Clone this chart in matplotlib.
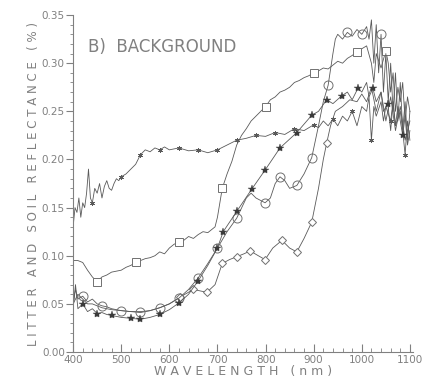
import numpy as np
import matplotlib
matplotlib.use("Agg")
import matplotlib.pyplot as plt
from matplotlib.ticker import MultipleLocator, FuncFormatter

# litter / soil spectra (reflectance, fraction)
wl_a = [400, 404, 408, 412, 416, 420, 424, 428, 432, 436, 440, 445, 450, 455, 460, 465, 470, 475,
        480, 485, 490, 495, 500, 510, 520, 530, 540, 550, 560, 570, 580, 590, 600, 620, 640, 660,
        680, 700, 720, 740, 760, 780, 800, 820, 840, 860, 880, 900, 910, 920, 930, 940, 950, 960,
        970, 980, 990, 1000, 1010, 1015, 1020, 1025, 1030, 1040, 1045, 1050, 1060, 1065, 1070,
        1080, 1085, 1090, 1095, 1100]
refl_a = [0.13, 0.15, 0.145, 0.16, 0.14, 0.155, 0.15, 0.165, 0.19, 0.16, 0.155, 0.17, 0.165, 0.175,
          0.16, 0.172, 0.178, 0.17, 0.168, 0.175, 0.18, 0.178, 0.182, 0.185, 0.19, 0.195, 0.205,
          0.21, 0.208, 0.212, 0.21, 0.213, 0.21, 0.212, 0.209, 0.21, 0.207, 0.21, 0.215, 0.22,
          0.222, 0.225, 0.224, 0.228, 0.226, 0.232, 0.23, 0.236, 0.233, 0.24, 0.235, 0.242, 0.235,
          0.245, 0.24, 0.25, 0.235, 0.255, 0.25, 0.265, 0.22, 0.255, 0.245, 0.26, 0.24, 0.255,
          0.24, 0.26, 0.235, 0.25, 0.23, 0.205, 0.24, 0.22]

wl_b = [400, 410, 420, 430, 440, 450, 460, 470, 480, 490, 500, 510, 520, 530, 540, 550, 560, 570,
        580, 590, 600, 610, 620, 630, 640, 650, 660, 670, 680, 690, 695, 700, 705, 710, 720, 730,
        740, 750, 760, 770, 780, 790, 800, 810, 820, 830, 840, 850, 860, 870, 880, 890, 900, 910,
        920, 930, 940, 950, 960, 970, 980, 990, 1000, 1010, 1020, 1025, 1030, 1040, 1050, 1055,
        1060, 1065, 1070, 1075, 1080, 1085, 1090, 1095, 1100]
refl_b = [0.095, 0.095, 0.093, 0.085, 0.078, 0.073, 0.078, 0.08, 0.083, 0.084, 0.085, 0.088, 0.09,
          0.093, 0.095, 0.097, 0.098, 0.1, 0.104, 0.102, 0.108, 0.112, 0.114, 0.116, 0.12, 0.118,
          0.122, 0.125, 0.124, 0.128, 0.13, 0.14, 0.155, 0.17, 0.185, 0.198, 0.215, 0.225, 0.232,
          0.24, 0.245, 0.25, 0.255, 0.262, 0.265, 0.27, 0.272, 0.275, 0.28, 0.282, 0.285, 0.287,
          0.29, 0.292, 0.295, 0.294, 0.298, 0.302, 0.3, 0.305, 0.308, 0.312, 0.315, 0.318, 0.3,
          0.28, 0.31, 0.295, 0.313, 0.3, 0.27, 0.29, 0.25, 0.275, 0.26, 0.28, 0.24, 0.265, 0.25]

wl_c = [400, 405, 410, 420, 430, 440, 450, 460, 470, 480, 490, 500, 520, 540, 560, 580, 600, 620,
        640, 660, 680, 700, 720, 740, 760, 770, 780, 799, 810, 820, 830, 840, 850, 865, 880, 896,
        910, 920, 930, 940, 945, 950, 960, 970, 980, 990, 1000, 1010, 1015, 1020, 1025, 1030,
        1035, 1040, 1045, 1050, 1055, 1060, 1065, 1070, 1075, 1080, 1085, 1090, 1095, 1100]
refl_c = [0.05, 0.065, 0.055, 0.058, 0.052, 0.055, 0.05, 0.048, 0.047, 0.045, 0.044, 0.043, 0.042,
          0.042, 0.043, 0.046, 0.05, 0.056, 0.065, 0.077, 0.092, 0.108, 0.125, 0.139, 0.16, 0.165,
          0.16, 0.155, 0.16, 0.175, 0.182, 0.178, 0.17, 0.173, 0.185, 0.202, 0.235, 0.26, 0.277,
          0.31, 0.325, 0.33, 0.325, 0.332, 0.328, 0.335, 0.33, 0.338, 0.325, 0.345, 0.3, 0.34, 0.29,
          0.33, 0.27, 0.31, 0.26, 0.3, 0.25, 0.29, 0.24, 0.28, 0.23, 0.26, 0.22, 0.25]

wl_d = [400, 405, 410, 420, 430, 440, 450, 460, 470, 480, 490, 500, 520, 540, 560, 580, 600, 620,
        640, 660, 680, 700, 712, 740, 771, 799, 830, 865, 896, 910, 927, 940, 958, 970, 980, 992,
        1000, 1010, 1015, 1023, 1030, 1040, 1045, 1054, 1060, 1065, 1070, 1075, 1085, 1090, 1095,
        1100]
refl_d = [0.045, 0.07, 0.045, 0.05, 0.042, 0.045, 0.04, 0.041, 0.039, 0.038, 0.037, 0.036, 0.035,
          0.034, 0.036, 0.039, 0.044, 0.051, 0.06, 0.074, 0.09, 0.108, 0.125, 0.146, 0.169, 0.189,
          0.212, 0.228, 0.246, 0.25, 0.262, 0.258, 0.266, 0.27, 0.262, 0.274, 0.27, 0.28, 0.265,
          0.274, 0.26, 0.27, 0.25, 0.258, 0.23, 0.26, 0.235, 0.255, 0.225, 0.245, 0.215, 0.23]

wl_e = [400, 410, 420, 430, 440, 460, 480, 500, 520, 540, 560, 580, 600, 622, 650, 678, 695, 710,
        725, 740, 755, 768, 785, 799, 815, 834, 850, 865, 880, 896, 910, 920, 927, 935, 945, 960,
        975, 990, 1000, 1010, 1020, 1030, 1040, 1050, 1060, 1070, 1080, 1090, 1100]
refl_e = [0.05, 0.06, 0.055, 0.05, 0.05, 0.046, 0.044, 0.043, 0.042, 0.041, 0.043, 0.046, 0.05,
          0.057, 0.065, 0.062, 0.07, 0.092, 0.096, 0.099, 0.102, 0.105, 0.1, 0.096, 0.108, 0.116,
          0.108, 0.104, 0.118, 0.135, 0.17, 0.2, 0.217, 0.235, 0.25, 0.255, 0.262, 0.26, 0.268,
          0.26, 0.275, 0.25, 0.27, 0.24, 0.265, 0.23, 0.255, 0.22, 0.24]

# where the symbols sit on each curve
marks_a = [440, 500, 540, 580, 620, 660, 700, 740, 780, 820, 860, 900, 940, 980, 1020, 1060, 1090]
marks_b = [450, 530, 620, 710, 800, 900, 990, 1050]
marks_c = [420, 460, 500, 540, 580, 620, 660, 700, 740, 799, 830, 865, 896, 930, 970, 1000, 1040]
marks_d = [420, 450, 480, 520, 540, 580, 620, 660, 700, 712, 740, 771, 799, 830, 865, 896, 927,
           958, 992, 1023, 1054, 1085]
marks_e = [622, 650, 678, 710, 740, 768, 799, 834, 865, 896, 927]

line_col = "#5a5a5a"
sym_col = "#707070"
text_col = "#808080"

fig = plt.figure(figsize=(4.3, 3.86), dpi=100)
ax = fig.add_axes([0.17, 0.088, 0.79, 0.873])


def draw(wl, refl, marks, **kw):
    idx = [i for i, w in enumerate(wl) if w in marks]
    ax.plot(wl, refl, color=line_col, lw=0.6, markevery=idx, **kw)


draw(wl_a, refl_a, marks_a, marker=(6, 2, 0), ms=3.5, mec=line_col, mew=0.6)
draw(wl_b, refl_b, marks_b, marker="s", ms=5.5, mfc="white", mec=sym_col, mew=0.7)
draw(wl_e, refl_e, marks_e, marker="D", ms=4.5, mfc="white", mec=sym_col, mew=0.7)
draw(wl_c, refl_c, marks_c, marker="o", ms=6.5, mfc="none", mec=sym_col, mew=0.7)
draw(wl_d, refl_d, marks_d, marker="*", ms=6, mfc="#3a3a3a", mec="#3a3a3a", mew=0.3)

ax.set_xlim(400, 1106)
ax.set_ylim(0, 0.35)
for s in ["top", "right"]:
    ax.spines[s].set_visible(False)
for s in ["left", "bottom"]:
    ax.spines[s].set_color("#808080")
    ax.spines[s].set_linewidth(0.8)

ax.xaxis.set_major_locator(MultipleLocator(100))
ax.xaxis.set_minor_locator(MultipleLocator(20))
ax.yaxis.set_major_locator(MultipleLocator(0.05))
ax.yaxis.set_minor_locator(MultipleLocator(0.01))
ax.yaxis.set_major_formatter(FuncFormatter(lambda v, p: "%.2f" % v))
ax.tick_params(axis="x", which="major", direction="in", length=6, color="#808080",
               labelsize=7.5, labelcolor=text_col, pad=2)
ax.tick_params(axis="x", which="minor", direction="in", length=3, color="#808080")
ax.tick_params(axis="y", which="major", direction="out", length=5, color="#808080",
               labelsize=7.5, labelcolor=text_col, pad=1)
ax.tick_params(axis="y", which="minor", direction="out", length=2.5, color="#808080")

ax.text(430, 0.312, "B)  BACKGROUND", fontsize=12, color=text_col)
ax.set_xlabel("W A V E L E N G T H   ( n m )", fontsize=9, color=text_col, labelpad=0)
ax.set_ylabel("L I T T E R   A N D   S O I L   R E F L E C T A N C E   ( % )",
              fontsize=8.5, color=text_col, labelpad=1)

fig.savefig("out.png", dpi=100)
